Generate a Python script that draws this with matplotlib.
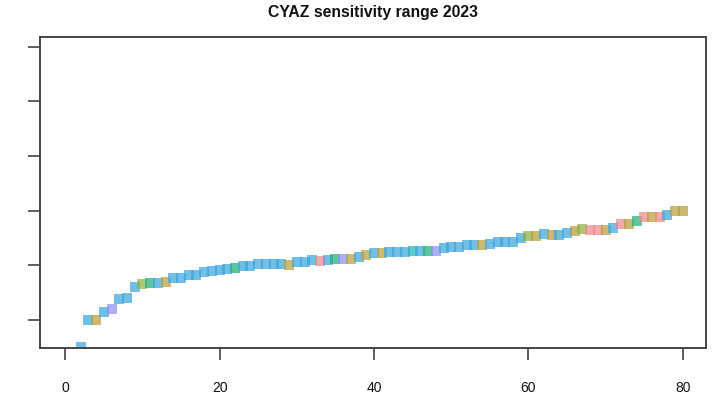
import matplotlib
matplotlib.use("Agg")
import matplotlib.pyplot as plt

title = "CYAZ sensitivity range 2023"

x_vals = list(range(2, 81))
y_vals = [
    -0.50, 0.00, 0.00, 0.15, 0.21, 0.38, 0.40, 0.61, 0.65, 0.67,   # 2-11
    0.67, 0.69, 0.76, 0.76, 0.82, 0.82, 0.88, 0.90, 0.92, 0.93,    # 12-21
    0.95, 0.98, 0.99, 1.02, 1.02, 1.02, 1.02, 1.00, 1.06, 1.06,    # 22-31
    1.09, 1.08, 1.09, 1.12, 1.12, 1.11, 1.15, 1.19, 1.22, 1.22,    # 32-41
    1.25, 1.25, 1.25, 1.27, 1.27, 1.27, 1.27, 1.31, 1.34, 1.34,    # 42-51
    1.37, 1.37, 1.37, 1.40, 1.43, 1.43, 1.43, 1.50, 1.53, 1.53,    # 52-61
    1.58, 1.56, 1.56, 1.60, 1.63, 1.66, 1.65, 1.65, 1.65, 1.69,    # 62-71
    1.75, 1.75, 1.82, 1.88, 1.88, 1.88, 1.92, 2.00, 2.00,          # 72-80
]
groups = [
    "b", "b", "o", "b", "p", "b", "b", "b", "l", "g",   # 2-11
    "b", "o", "b", "b", "b", "b", "b", "b", "b", "b",   # 12-21
    "g", "b", "b", "b", "b", "b", "b", "o", "b", "b",   # 22-31
    "b", "r", "b", "g", "p", "o", "b", "o", "b", "o",   # 32-41
    "b", "b", "b", "t", "b", "g", "p", "b", "b", "b",   # 42-51
    "b", "b", "o", "b", "b", "b", "b", "b", "l", "o",   # 52-61
    "b", "o", "b", "b", "o", "l", "r", "r", "o", "b",   # 62-71
    "r", "o", "g", "r", "o", "r", "b", "o", "o",        # 72-80
]
y_ticks = [0, 1, 2, 3, 4, 5]
x_ticks = [0, 20, 40, 60, 80]

palette = {
    "b": "#3aa6dd",
    "o": "#b79f3a",
    "p": "#8f8ff0",
    "l": "#8fb040",
    "g": "#1fb07a",
    "r": "#ec8a88",
    "t": "#20b8b8",
}

fig = plt.figure(figsize=(7.14, 4.05), dpi=100)
ax = fig.add_axes([0.0567, 0.1407, 0.9321, 0.7679])

for xv, yv, g in zip(x_vals, y_vals, groups):
    ax.plot([xv], [yv], marker="s", markersize=6.6, color=palette[g],
            alpha=0.72, markeredgewidth=0, linestyle="none")

ax.set_xlim(-3.2, 83.0)
ax.set_ylim(-0.513, 5.18)
ax.set_xticks(x_ticks)
ax.set_xticklabels([str(t) for t in x_ticks], fontfamily="Liberation Sans",
                   fontsize=10, color="#111111")
ax.set_yticks(y_ticks)
ax.set_yticklabels([""] * len(y_ticks))
ax.tick_params(axis="both", direction="out", length=8.5, width=1.1,
               color="#333333")
ax.tick_params(axis="x", pad=15)
for s in ax.spines.values():
    s.set_linewidth(1.4)
    s.set_color("#444444")

fig.text(0.5225, 0.968, title, ha="center", va="center",
         fontfamily="Liberation Sans", fontweight="bold", fontsize=11.3,
         color="#111111")

fig.savefig("out.png", dpi=100)
